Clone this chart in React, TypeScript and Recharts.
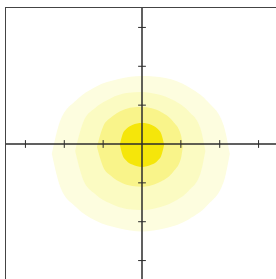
import React from "react";
import {
  ComposedChart,
  Area,
  XAxis,
  YAxis,
  ReferenceLine,
} from "recharts";

// contour bands: x, lower edge, upper edge
const band1 = [
  { x: -2.32, lo: -0.25, hi: -0.25 },
  { x: -2.1, lo: -1.11, hi: 0.61 },
  { x: -1.7, lo: -1.62, hi: 1.12 },
  { x: -1.2, lo: -1.97, hi: 1.47 },
  { x: -0.6, lo: -2.17, hi: 1.67 },
  { x: 0, lo: -2.25, hi: 1.75 },
  { x: 0.6, lo: -2.17, hi: 1.7 },
  { x: 1.2, lo: -1.94, hi: 1.47 },
  { x: 1.7, lo: -1.56, hi: 1.08 },
  { x: 2.1, lo: -0.98, hi: 0.48 },
  { x: 2.26, lo: -0.25, hi: -0.25 },
];

const band2 = [
  { x: -1.72, lo: -0.18, hi: -0.18 },
  { x: -1.5, lo: -0.95, hi: 0.59 },
  { x: -1.2, lo: -1.29, hi: 0.93 },
  { x: -0.8, lo: -1.54, hi: 1.18 },
  { x: -0.4, lo: -1.67, hi: 1.31 },
  { x: 0, lo: -1.7, hi: 1.34 },
  { x: 0.4, lo: -1.64, hi: 1.28 },
  { x: 0.8, lo: -1.49, hi: 1.13 },
  { x: 1.2, lo: -1.2, hi: 0.84 },
  { x: 1.5, lo: -0.77, hi: 0.41 },
  { x: 1.63, lo: -0.18, hi: -0.18 },
];

const band3 = [
  { x: -1.16, lo: -0.07, hi: -0.07 },
  { x: -1.0, lo: -0.59, hi: 0.45 },
  { x: -0.8, lo: -0.82, hi: 0.68 },
  { x: -0.5, lo: -1.01, hi: 0.87 },
  { x: -0.25, lo: -1.08, hi: 0.94 },
  { x: 0, lo: -1.1, hi: 0.95 },
  { x: 0.25, lo: -1.06, hi: 0.92 },
  { x: 0.5, lo: -0.96, hi: 0.82 },
  { x: 0.8, lo: -0.72, hi: 0.58 },
  { x: 1.0, lo: -0.38, hi: 0.24 },
  { x: 1.05, lo: -0.07, hi: -0.07 },
];

const band4 = [
  { x: -0.57, lo: -0.02, hi: -0.02 },
  { x: -0.5, lo: -0.29, hi: 0.25 },
  { x: -0.4, lo: -0.43, hi: 0.39 },
  { x: -0.25, lo: -0.53, hi: 0.49 },
  { x: 0, lo: -0.59, hi: 0.54 },
  { x: 0.25, lo: -0.53, hi: 0.49 },
  { x: 0.4, lo: -0.43, hi: 0.39 },
  { x: 0.5, lo: -0.29, hi: 0.25 },
  { x: 0.57, lo: -0.02, hi: -0.02 },
];

const bands = [band1, band2, band3, band4];
const bandColors = ["#fdfddf", "#fbfbc2", "#f9f48a", "#f5e60a"];

const ticks = [-3, -2, -1, 1, 2, 3];
const domain: [number, number] = [-3.5, 3.5];

// merge every band into one table keyed by x
const xs = Array.from(new Set(bands.flatMap((b) => b.map((p) => p.x)))).sort(
  (a, b) => a - b
);
const table = xs.map((x) => {
  const row: Record<string, any> = { x };
  bands.forEach((b, i) => {
    const p = b.find((q) => q.x === x);
    row[`b${i}`] = p ? [p.lo, p.hi] : null;
  });
  return row;
});

const axisColor = "#2b2b2b";
const tickLen = 0.1;

export default function App() {
  return (
    <>
      <style>{`body{margin:0;overflow:hidden}`}</style>
      <div
        style={{
          position: "absolute",
          left: 5,
          top: 7,
          borderLeft: "1px solid #444",
          borderTop: "1px solid #444",
        }}
      >
        <ComposedChart
          width={272}
          height={272}
          data={table}
          margin={{ top: 0, right: 0, bottom: 0, left: 0 }}
        >
          <XAxis dataKey="x" type="number" domain={domain} hide allowDataOverflow />
          <YAxis type="number" domain={domain} hide allowDataOverflow />
          {bands.map((_, i) => (
            <Area
              key={i}
              dataKey={`b${i}`}
              type="monotone"
              fill={bandColors[i]}
              fillOpacity={1}
              stroke="none"
              connectNulls
              isAnimationActive={false}
              activeDot={false}
              dot={false}
            />
          ))}
          <ReferenceLine x={0} stroke={axisColor} strokeWidth={1.5} />
          <ReferenceLine y={0} stroke={axisColor} strokeWidth={1.5} />
          {ticks.map((t) => (
            <ReferenceLine
              key={`xt${t}`}
              segment={[
                { x: t, y: -tickLen },
                { x: t, y: tickLen },
              ]}
              stroke={axisColor}
              strokeWidth={1}
            />
          ))}
          {ticks.map((t) => (
            <ReferenceLine
              key={`yt${t}`}
              segment={[
                { x: -tickLen, y: t },
                { x: tickLen, y: t },
              ]}
              stroke={axisColor}
              strokeWidth={1}
            />
          ))}
        </ComposedChart>
      </div>
    </>
  );
}
